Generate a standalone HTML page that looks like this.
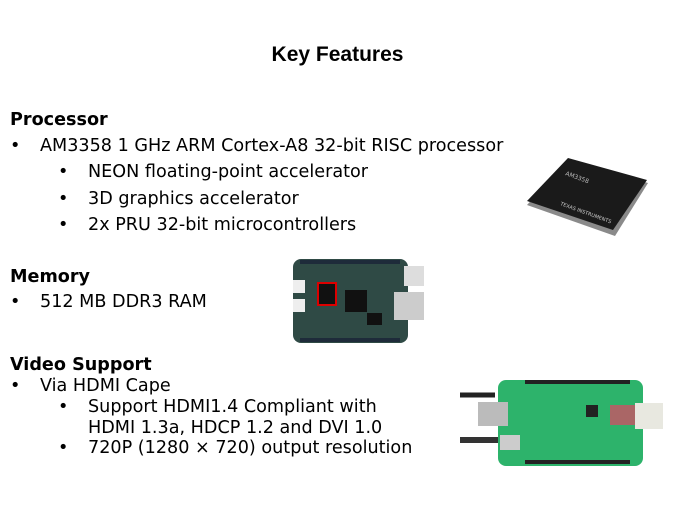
<!DOCTYPE html>
<html><head><meta charset="utf-8"><style>
body{margin:0;width:675px;height:506px;background:#fff;position:relative;overflow:hidden;font-family:"DejaVu Sans","Liberation Sans",sans-serif;color:#000}
.t{position:absolute;font-size:17.6px;line-height:20px;white-space:nowrap}
.b{font-weight:bold}
</style></head><body>
<div class="t b" style="left:0;width:675px;text-align:center;top:45px;font-size:21px;font-family:'Liberation Sans',sans-serif">Key Features</div>
<div class="t b" style="left:10px;top:110px">Processor</div>
<div class="t" style="left:10px;top:136px">•</div><div class="t" style="left:40px;top:136px">AM3358 1 GHz ARM Cortex-A8 32-bit RISC processor</div>
<div class="t" style="left:58px;top:162px">•</div><div class="t" style="left:88px;top:162px">NEON floating-point accelerator</div>
<div class="t" style="left:58px;top:189px">•</div><div class="t" style="left:88px;top:189px">3D graphics accelerator</div>
<div class="t" style="left:58px;top:215px">•</div><div class="t" style="left:88px;top:215px">2x PRU 32-bit microcontrollers</div>
<div class="t b" style="left:10px;top:267px">Memory</div>
<div class="t" style="left:10px;top:292px">•</div><div class="t" style="left:40px;top:292px">512 MB DDR3 RAM</div>
<div class="t b" style="left:10px;top:355px">Video Support</div>
<div class="t" style="left:10px;top:376px">•</div><div class="t" style="left:40px;top:376px">Via HDMI Cape</div>
<div class="t" style="left:58px;top:397px">•</div><div class="t" style="left:88px;top:397px">Support HDMI1.4 Compliant with</div>
<div class="t" style="left:88px;top:418px">HDMI 1.3a, HDCP 1.2 and DVI 1.0</div>
<div class="t" style="left:58px;top:438px">•</div><div class="t" style="left:88px;top:438px">720P (1280 × 720) output resolution</div>

<svg style="position:absolute;left:0;top:0" width="675" height="506">
<polygon points="568,160 648,183 615,236 527,205" fill="#8a8a8a"/>
<polygon points="568,158 647,180 613,230 527,201" fill="#1a1a1a"/>
<text x="565" y="175" font-size="6" fill="#bbb" transform="rotate(20 565 175)">AM3358</text>
<text x="560" y="205" font-size="5" fill="#ccc" transform="rotate(20 560 205)">TEXAS INSTRUMENTS</text>
<rect x="293" y="259" width="115" height="84" rx="8" fill="#2f4a45"/>
<rect x="300" y="260" width="100" height="4" fill="#1e2b3a"/>
<rect x="300" y="338" width="100" height="4" fill="#1e2b3a"/>
<rect x="404" y="266" width="20" height="20" fill="#ddd"/>
<rect x="394" y="292" width="30" height="28" fill="#ccc"/>
<rect x="293" y="280" width="12" height="13" fill="#eee"/><rect x="293" y="299" width="12" height="13" fill="#eee"/>
<rect x="318" y="283" width="18" height="22" fill="#111" stroke="#d00" stroke-width="2"/>
<rect x="345" y="290" width="22" height="22" fill="#111"/>
<rect x="367" y="313" width="15" height="12" fill="#111"/>
<rect x="498" y="380" width="145" height="86" rx="8" fill="#2db36b"/>
<rect x="525" y="380" width="105" height="4" fill="#222"/><rect x="525" y="460" width="105" height="4" fill="#222"/>
<rect x="478" y="402" width="30" height="24" fill="#bbb"/>
<rect x="635" y="403" width="28" height="26" fill="#e8e8e0"/>
<rect x="610" y="405" width="25" height="20" fill="#a66"/>
<rect x="500" y="435" width="20" height="15" fill="#ccc"/>
<path d="M460 395 H495" stroke="#222" stroke-width="5"/>
<path d="M460 440 H498" stroke="#333" stroke-width="6"/>
<rect x="586" y="405" width="12" height="12" fill="#222"/>
</svg>
</body></html>
